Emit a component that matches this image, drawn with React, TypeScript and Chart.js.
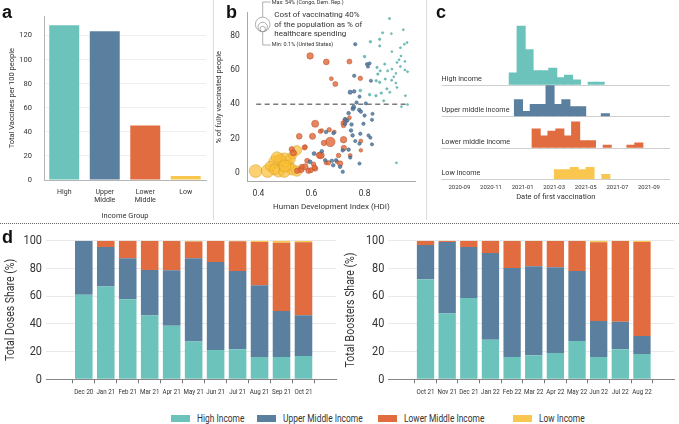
import React, { useEffect, useRef } from "react";
import { Chart, registerables } from "chart.js";
Chart.register(...registerables);

const FONT = "Roboto, 'Liberation Sans', sans-serif";
const TEXT = "#333";
const C_HIGH = "#6cc3bc";
const C_UPPER = "#5b7f9e";
const C_LOWER = "#e06c3f";
const C_LOW = "#f9c74f";

// ---------- panel a ----------
const incomeGroups = [["High"], ["Upper", "Middle"], ["Lower", "Middle"], ["Low"]];
const totalVaccinesPer100 = [128.5, 123.5, 45.3, 3.3];

// ---------- panel b : [HDI, % fully vaccinated, cost % of health spending] ----------
type Pt = [number, number, number];
const scatterHigh: Pt[] = [
  [0.894, 90, 0.2], [0.868, 81.7, 0.2], [0.901, 81.2, 0.1], [0.946, 83.5, 0.1], [0.822, 76.5, 0.4],
  [0.857, 77.9, 0.3], [0.857, 74, 0.2], [0.903, 70.7, 0.1], [0.935, 73, 0.1], [0.95, 75, 0.1],
  [0.96, 76, 0.1], [0.8, 67.8, 0.5], [0.937, 68.2, 0.1], [0.922, 64.4, 0.1], [0.952, 65, 0.1],
  [0.847, 61.5, 0.3], [0.876, 63.4, 0.2], [0.903, 60.5, 0.1], [0.935, 62, 0.1], [0.952, 60, 0.1],
  [0.859, 59.5, 0.2], [0.887, 59.5, 0.2], [0.85, 57.6, 0.3], [0.918, 58, 0.1], [0.962, 59, 0.1],
  [0.844, 53.7, 0.3], [0.857, 52.8, 0.3], [0.878, 54.7, 0.2], [0.902, 54, 0.2], [0.784, 48, 0.6],
  [0.819, 45.6, 0.4], [0.843, 45, 0.3], [0.863, 46.5, 0.3], [0.884, 49, 0.2], [0.918, 52.4, 0.1],
  [0.922, 49.8, 0.1], [0.872, 42, 0.2], [0.962, 39.8, 0.1], [0.92, 5.8, 0.1], [0.954, 45, 0.1],
  [0.939, 38.6, 0.1], [0.93, 66, 0.1], [0.91, 56, 0.1], [0.895, 47, 0.2],
];
const scatterUpper: Pt[] = [
  [0.765, 75, 1.2], [0.809, 63.4, 1], [0.819, 63.8, 1], [0.813, 62, 1], [0.761, 56.6, 1.2],
  [0.824, 53.7, 1], [0.746, 47, 2.5], [0.761, 47.5, 1.5], [0.781, 44.4, 1], [0.759, 38.3, 2.5],
  [0.78, 36.7, 1.5], [0.786, 35.7, 1.5], [0.74, 34.8, 1.5], [0.727, 31.3, 1.5], [0.735, 30.5, 1.5],
  [0.751, 28.2, 1.5], [0.796, 28.6, 1.2], [0.828, 30.9, 1], [0.8, 33.4, 1.2], [0.83, 34.4, 1],
  [0.784, 22.8, 1.2], [0.815, 21.8, 1], [0.822, 20.5, 1], [0.828, 16.6, 1], [0.765, 18.5, 1.2],
  [0.781, 17, 1.2], [0.74, 13.5, 1.5], [0.746, 8.9, 1.2], [0.693, 7.3, 1.5], [0.677, 7, 1.5],
  [0.781, 5.4, 1], [0.718, 0.6, 1.2], [0.756, 37.3, 2], [0.727, 28.6, 1.5], [0.749, 24.7, 1.5],
  [0.755, 21.8, 1.5], [0.655, 23.8, 1.5], [0.683, 23.2, 1.5], [0.718, 13.1, 1.5], [0.61, 11.2, 2],
  [0.595, 6.4, 2], [0.652, 7.3, 1.5], [0.682, 4.4, 1.5], [0.708, 3.5, 1.5], [0.639, 12.6, 1.5],
  [0.805, 40.5, 1], [0.77, 41, 1.2],
];
const scatterLower: Pt[] = [
  [0.595, 68.2, 8], [0.656, 64.7, 6], [0.743, 64.9, 4], [0.675, 54.9, 2], [0.69, 51.8, 4],
  [0.784, 55.1, 3], [0.614, 28.6, 10], [0.667, 25.1, 3], [0.721, 27.6, 3], [0.727, 30.5, 4],
  [0.743, 32.1, 2], [0.634, 24.2, 3], [0.554, 21.3, 6], [0.604, 21.3, 7], [0.671, 18, 20],
  [0.647, 17.4, 5], [0.721, 19.3, 8], [0.576, 15.1, 3], [0.526, 13.7, 5], [0.532, 11.6, 7],
  [0.635, 10.2, 10], [0.702, 10.1, 3], [0.722, 14.5, 5], [0.746, 10.1, 2], [0.708, 5.4, 5],
  [0.608, 5, 3], [0.655, 5.8, 2], [0.576, 3.5, 7], [0.561, 1.9, 7], [0.589, 1.2, 5],
  [0.546, 1.2, 5], [0.614, 2.5, 5], [0.786, 18.5, 2], [0.786, 13.1, 1.5], [0.639, 24.7, 1.5],
  [0.686, 23.8, 2], [0.718, 29, 2], [0.574, 14.7, 4], [0.584, 7, 4], [0.564, 3.5, 4],
  [0.598, 1.5, 4], [0.611, 3.1, 4], [0.664, 5.8, 3], [0.696, 6.4, 1.5], [0.63, 10.2, 7],
];
const scatterLow: Pt[] = [
  [0.39, 1, 40], [0.435, 1, 40], [0.463, 6.4, 38], [0.498, 7.3, 54], [0.476, 1, 35],
  [0.513, 4.4, 28], [0.526, 2, 30], [0.545, 1, 25], [0.545, 13.1, 20], [0.444, 3.9, 20],
  [0.498, 0.6, 30], [0.482, 7.7, 30], [0.52, 8, 25], [0.5, 4, 35], [0.46, 2, 25],
  [0.53, 10.5, 15], [0.47, 9, 30],
];
const hdiTicks = [0.4, 0.6, 0.8];
const vaccTicks = [0, 20, 40, 60, 80];
const vaccTarget = 40;

// ---------- panel c ----------
const histRows = ["High income", "Upper middle income", "Lower middle income", "Low income"];
const histBinStart = [3.16, 3.49, 4.61, 6.02]; // months after 2020-09
const histHigh = [5, 25, 15, 6, 6, 7, 3, 4, 2, 0, 1, 1];
const histUpper = [7, 2, 5, 5, 13, 5, 7, 4, 4, 0, 0, 1];
const histLower = [8, 5, 7, 8, 5, 11, 3, 3, 0, 1, 0, 0, 1, 2];
const histLow = [4, 4, 5, 4, 5, 0, 2];
const monthTicks = ["2020-09", "2020-11", "2021-01", "2021-03", "2021-05", "2021-07", "2021-09"];

// ---------- panel d ----------
const doseMonths = ["Dec 20", "Jan 21", "Feb 21", "Mar 21", "Apr 21", "May 21", "Jun 21", "Jul 21", "Aug 21", "Sep 21", "Oct 21"];
const doseHigh = [61, 67, 57.7, 46, 38.7, 27.2, 21.2, 21.6, 16.1, 16.1, 16.8];
const doseUpper = [39, 28.4, 29.6, 32.8, 39.9, 60.1, 63.4, 56.5, 51.7, 33.2, 29.4];
const doseLower = [0, 4.6, 12.7, 21, 21.1, 12.2, 15.1, 21.5, 31.2, 49.3, 52.6];
const doseLow = [0, 0, 0, 0.2, 0.3, 0.5, 0.3, 0.4, 1.0, 1.4, 1.2];
const boosterMonths = ["Oct 21", "Nov 21", "Dec 21", "Jan 22", "Feb 22", "Mar 22", "Apr 22", "May 22", "Jun 22", "Jul 22", "Aug 22"];
const boosterHigh = [72.1, 47.4, 58.7, 28.6, 16.1, 17.3, 19.0, 27.6, 16.1, 21.6, 18.3];
const boosterUpper = [24.8, 51.6, 36.7, 62.5, 64.2, 64.2, 61.8, 50.5, 26.0, 20.0, 13.0];
const boosterLower = [3.1, 1.0, 4.6, 8.9, 19.4, 18.2, 18.9, 21.7, 56.7, 58.1, 67.7];
const boosterLow = [0, 0, 0, 0, 0.3, 0.3, 0.3, 0.2, 1.2, 0.3, 1.0];
const legendLabels = ["High Income", "Upper Middle Income", "Lower Middle Income", "Low Income"];

// ---------- helpers ----------
const f = (size: number, weight: any = "normal") => ({ family: FONT, size, weight, lineHeight: 1.15 });
const setTicks = (vals: number[]) => (axis: any) => {
  axis.ticks = vals.map((v) => ({ value: v }));
};
const fixW = (w: number) => (s: any) => { s.width = w; };
const fixH = (h: number) => (s: any) => { s.height = h; };
const bubbleR = (cost: number) => 0.7 + 0.9 * Math.sqrt(cost);

// narrows every text drawn on a chart's canvas (imitates a condensed typeface)
const condensed = (k: number) => ({
  id: "condensed",
  beforeDraw(chart: any) {
    const ctx = chart.ctx;
    if (ctx.__origFill) return;
    const orig = ctx.fillText.bind(ctx);
    ctx.__origFill = orig;
    ctx.fillText = (t: string, x: number, y: number) => {
      ctx.save();
      ctx.translate(x, y);
      ctx.scale(k, 1);
      orig(t, 0, 0);
      ctx.restore();
    };
  },
});

function ChartCanvas({ left, top, width, height, make }: { left: number; top: number; width: number; height: number; make: () => any }) {
  const ref = useRef<HTMLCanvasElement>(null);
  useEffect(() => {
    const chart = new Chart(ref.current as HTMLCanvasElement, make());
    return () => chart.destroy();
  }, []);
  return (
    <canvas
      ref={ref}
      width={width}
      height={height}
      style={{ position: "absolute", left, top, width, height }}
    />
  );
}

const baseOpts = {
  responsive: false,
  animation: false,
  devicePixelRatio: 1,
  events: [],
  plugins: { legend: { display: false }, tooltip: { enabled: false } },
};

// panel a
const makeA = () => ({
  type: "bar",
  data: {
    labels: incomeGroups,
    datasets: [{
      data: totalVaccinesPer100,
      backgroundColor: [C_HIGH, C_UPPER, C_LOWER, C_LOW],
      barPercentage: 0.74,
      categoryPercentage: 1,
    }],
  },
  options: {
    ...baseOpts,
    layout: { padding: { left: 0, right: 7, top: 10, bottom: 0 } },
    scales: {
      x: {
        afterFit: fixH(42),
        grid: { display: false, drawTicks: false },
        border: { display: true, color: "#b5b5b5" },
        ticks: { color: TEXT, font: f(7), padding: 8, maxRotation: 0 },
        title: { display: true, text: "Income Group", color: TEXT, font: f(7.5), padding: { top: 0, bottom: 2 } },
      },
      y: {
        min: 0, max: 136,
        afterFit: fixW(44),
        afterBuildTicks: setTicks([0, 20, 40, 60, 80, 100, 120]),
        grid: { color: "#efefef", drawTicks: false },
        border: { display: true, color: "#b5b5b5" },
        ticks: { color: TEXT, font: f(7.5), padding: 12 },
        title: { display: true, text: "Total Vaccines per 100 people", color: TEXT, font: f(7.5), padding: { top: 8, bottom: 0 } },
      },
    },
  },
});

// panel b
const scatterPlugin = {
  id: "scatterExtras",
  afterDatasetsDraw(chart: any) {
    const { ctx, scales } = chart;
    const x = scales.x, y = scales.y;
    ctx.save();
    ctx.setLineDash([5, 3.5]);
    ctx.strokeStyle = "#7a7a7a";
    ctx.lineWidth = 1.4;
    const py = y.getPixelForValue(vaccTarget);
    ctx.beginPath();
    ctx.moveTo(x.getPixelForValue(0.392), py);
    ctx.lineTo(x.getPixelForValue(0.965), py);
    ctx.stroke();
    ctx.setLineDash([]);
    // size legend
    const cx = 49.7, bottom = 31.7;
    ctx.strokeStyle = "#9a9a9a";
    ctx.lineWidth = 0.8;
    [54, 20, 5].forEach((c) => {
      const r = bubbleR(c);
      ctx.beginPath();
      ctx.arc(cx, bottom - r, r, 0, Math.PI * 2);
      ctx.stroke();
    });
    const rMax = bubbleR(54);
    ctx.beginPath();
    ctx.moveTo(cx, bottom - 2 * rMax);
    ctx.lineTo(cx, 2);
    ctx.lineTo(cx + 8, 2);
    ctx.moveTo(cx, bottom);
    ctx.lineTo(cx, 45);
    ctx.lineTo(cx + 8, 45);
    ctx.stroke();
    ctx.fillStyle = TEXT;
    ctx.textBaseline = "middle";
    ctx.textAlign = "left";
    ctx.font = `5.5px ${FONT}`;
    ctx.fillText("Max: 54% (Congo, Dem. Rep.)", cx + 9, 2.5);
    ctx.fillText("Min: 0.1% (United States)", cx + 9, 45);
    ctx.font = `8px ${FONT}`;
    ctx.fillText("Cost of vaccinating 40%", 61.3, 15);
    ctx.fillText("of the population as % of", 61.3, 24.5);
    ctx.fillText("healthcare spending", 61.3, 33.5);
    ctx.restore();
  },
};
const bubbleDs = (pts: Pt[], bg: string, bd: string, order: number) => ({
  data: pts.map(([x, y, c]) => ({ x, y, r: bubbleR(c) })),
  backgroundColor: bg,
  borderColor: bd,
  borderWidth: 0.6,
  order,
});
const makeB = () => ({
  type: "bubble",
  data: {
    datasets: [
      bubbleDs(scatterHigh, "rgba(98,188,182,0.85)", "rgba(70,160,155,0.9)", 1),
      bubbleDs(scatterUpper, "rgba(82,120,156,0.85)", "rgba(60,95,130,0.9)", 2),
      bubbleDs(scatterLower, "rgba(224,104,58,0.8)", "rgba(190,80,40,0.9)", 3),
      bubbleDs(scatterLow, "rgba(250,190,52,0.7)", "rgba(215,160,35,0.9)", 4),
    ],
  },
  options: {
    ...baseOpts,
    layout: { padding: { left: 0, right: 11, top: 11.7, bottom: 0 } },
    scales: {
      x: {
        type: "linear", min: 0.36, max: 0.99,
        afterFit: fixH(40.3),
        afterBuildTicks: setTicks(hdiTicks),
        grid: { display: false, drawTicks: false },
        border: { display: true, color: "#a8a8a8" },
        ticks: { color: TEXT, font: f(8.5), padding: 7, callback: (v: number) => v.toFixed(1) },
        title: { display: true, text: "Human Development Index (HDI)", color: TEXT, font: f(8), padding: { top: 0, bottom: 10 } },
      },
      y: {
        type: "linear", min: -5.2, max: 93.3,
        afterFit: fixW(34.7),
        afterBuildTicks: setTicks(vaccTicks),
        grid: { display: false, drawTicks: false },
        border: { display: true, color: "#a8a8a8" },
        ticks: { color: TEXT, font: f(8.5), padding: 8 },
        title: { display: true, text: "% of fully vaccinated people", color: TEXT, font: f(7.5), padding: { top: 2, bottom: 0 } },
      },
    },
  },
  plugins: [scatterPlugin],
});

// panel c
const rowOffsets = [40.5, 27, 13.5, 0];
const ridgePlugin = {
  id: "ridge",
  beforeDatasetsDraw(chart: any) {
    const { ctx, chartArea, scales } = chart;
    ctx.save();
    histRows.forEach((name, i) => {
      const y = Math.round(scales.y.getPixelForValue(rowOffsets[i])) + 0.5;
      ctx.strokeStyle = "#cfcfcf";
      ctx.lineWidth = 1;
      ctx.beginPath();
      ctx.moveTo(chartArea.left, y);
      ctx.lineTo(chartArea.right, y);
      ctx.stroke();
      ctx.fillStyle = TEXT;
      ctx.font = `7.2px ${FONT}`;
      ctx.textBaseline = "bottom";
      ctx.textAlign = "left";
      ctx.fillText(name, chartArea.left, y - 3);
    });
    ctx.restore();
  },
};
const histDs = (counts: number[], start: number, offset: number, color: string) => ({
  data: counts
    .map((c, i) => ({ x: start + 0.5 * i + 0.25, y: [offset, offset + c] }))
    .filter((d) => d.y[1] > d.y[0]),
  backgroundColor: color,
  barThickness: 8.4,
  grouped: false,
  borderSkipped: false,
});
const makeC = () => ({
  type: "bar",
  data: {
    datasets: [
      histDs(histHigh, histBinStart[0], rowOffsets[0], C_HIGH),
      histDs(histUpper, histBinStart[1], rowOffsets[1], C_UPPER),
      histDs(histLower, histBinStart[2], rowOffsets[2], C_LOWER),
      histDs(histLow, histBinStart[3], rowOffsets[3], C_LOW),
    ],
  },
  options: {
    ...baseOpts,
    layout: { padding: { left: 15.5, right: 9, top: 11, bottom: 0 } },
    scales: {
      x: {
        type: "linear", min: -0.1, max: 12.3,
        afterFit: fixH(43),
        afterBuildTicks: setTicks([0, 2, 4, 6, 8, 10, 12]),
        grid: { display: false, drawTicks: false },
        border: { display: false },
        ticks: { color: TEXT, font: f(6), padding: 5, maxRotation: 0, callback: (v: number) => monthTicks[Math.round(v / 2)] },
        title: { display: true, text: "Date of first vaccination", color: TEXT, font: f(7.5), padding: { top: 0, bottom: 20.5 } },
      },
      y: { type: "linear", min: 0, max: 72, display: false },
    },
  },
  plugins: [ridgePlugin],
});

// panel d
const stackDs = (vals: number[], color: string) => ({
  data: vals.map((v, i) => ({ x: i, y: v })),
  backgroundColor: color,
  barPercentage: 0.8,
  categoryPercentage: 1,
});
const makeD = (labels: string[], hi: number[], up: number[], lo: number[], lw: number[], title: string, yW: number, padR: number, titlePad: number) => () => ({
  type: "bar",
  data: {
    datasets: [stackDs(hi, C_HIGH), stackDs(up, C_UPPER), stackDs(lo, C_LOWER), stackDs(lw, C_LOW)],
  },
  options: {
    ...baseOpts,
    layout: { padding: { left: 0, right: padR, top: 16.7, bottom: 0 } },
    scales: {
      x: {
        type: "linear", min: -1.12, max: 10.88, stacked: true,
        afterFit: fixH(26.7),
        afterBuildTicks: setTicks(labels.map((_, i) => i)),
        grid: { drawOnChartArea: false, drawTicks: true, tickLength: 4, tickColor: "#777" },
        border: { display: true, color: "#888" },
        ticks: { color: TEXT, font: f(7.4), padding: 5, maxRotation: 0, autoSkip: false, callback: (v: number) => labels[Math.round(v)] },
      },
      y: {
        min: 0, max: 100, stacked: true,
        afterFit: fixW(yW),
        afterBuildTicks: setTicks([0, 20, 40, 60, 80, 100]),
        grid: { color: "#e9e9e9", drawTicks: false },
        border: { display: false },
        ticks: { color: TEXT, font: f(13), padding: 4 },
        title: { display: true, text: title, color: TEXT, font: f(12.5), padding: { top: titlePad, bottom: 0 } },
      },
    },
  },
  plugins: [condensed(0.84)],
});

const label = (t: string, left: number, top: number) => (
  <div style={{ position: "absolute", left, top, fontFamily: "'Liberation Sans', Arial, sans-serif", fontWeight: 700, fontSize: 18, lineHeight: "18px", color: "#111" }}>{t}</div>
);

export default function App() {
  const legendPos = [171, 256.7, 378, 513];
  const legendColors = [C_HIGH, C_UPPER, C_LOWER, C_LOW];
  return (
    <div style={{ position: "fixed", left: 0, top: 0, width: 679, height: 424, background: "#fff", overflow: "hidden" }}>
      <ChartCanvas left={0} top={0} width={213} height={222} make={makeA} />
      <ChartCanvas left={213} top={0} width={213} height={222} make={makeB} />
      <ChartCanvas left={426} top={0} width={253} height={222} make={makeC} />
      <ChartCanvas left={0} top={224} width={339} height={182}
        make={makeD(doseMonths, doseHigh, doseUpper, doseLower, doseLow, "Total Doses Share (%)", 46, 3, 3.5)} />
      <ChartCanvas left={339} top={224} width={340} height={182}
        make={makeD(boosterMonths, boosterHigh, boosterUpper, boosterLower, boosterLow, "Total Boosters Share (%)", 49.3, 5, 4.2)} />
      <div style={{ position: "absolute", left: 212.5, top: 0, width: 1, height: 220, background: "#dedede" }} />
      <div style={{ position: "absolute", left: 425.5, top: 0, width: 1, height: 220, background: "#dedede" }} />
      <div style={{ position: "absolute", left: 0, top: 223, width: 679, height: 0, borderTop: "1px dotted #666" }} />
      {label("a", 2, 3)}
      {label("b", 226, 3)}
      {label("c", 436, 3)}
      {label("d", 2, 228)}
      {legendLabels.map((t, i) => (
        <div key={t} style={{ position: "absolute", left: legendPos[i], top: 411, height: 14, display: "flex", alignItems: "center", fontFamily: FONT, fontSize: 10.5, color: TEXT, whiteSpace: "nowrap" }}>
          <span style={{ display: "inline-block", width: 19, height: 7, background: legendColors[i], marginRight: 7 }} />
          <span style={{ display: "inline-block", transform: "scaleX(0.8)", transformOrigin: "left center" }}>{t}</span>
        </div>
      ))}
    </div>
  );
}
